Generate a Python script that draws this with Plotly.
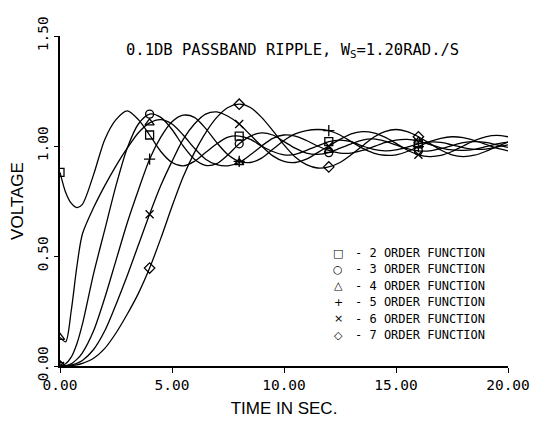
import plotly.graph_objects as go

# time grid (s)
T = [0, 0.25, 0.5, 0.75, 1.0] + [1.5 + 0.5 * i for i in range(38)]

# step responses (voltage)
order2 = [0.88,0.79,0.74,0.72,0.735, 0.87,1.03,1.12,1.16,1.12, 1.05,0.975,0.925,0.91,0.93,
          0.97,1.01,1.04,1.045,1.03, 1.0,0.975,0.96,0.962,0.98, 1.0,1.02,1.027,1.02,1.0,
          0.985,0.978,0.982,0.995,1.01, 1.018,1.016,1.005,0.993,0.985, 0.986,0.995,1.005]
order3 = [0,0.01,0.04,0.1,0.19, 0.42,0.62,0.82,0.99,1.1, 1.145,1.13,1.075,1.0,0.94,
          0.912,0.92,0.96,1.01,1.045, 1.06,1.05,1.02,0.99,0.968, 0.962,0.97,0.99,1.01,1.027,
          1.032,1.022,1.005,0.988,0.978, 0.978,0.988,1.002,1.015,1.02, 1.016,1.005,0.994]
order4 = [0.13,0.11,0.25,0.45,0.6, 0.72,0.82,0.91,0.99,1.06, 1.105,1.12,1.1,1.05,0.99,
          0.94,0.915,0.91,0.925,0.96, 1.0,1.035,1.05,1.045,1.025, 1.0,0.98,0.968,0.968,0.98,
          0.997,1.015,1.027,1.03,1.022, 1.007,0.992,0.982,0.98,0.985, 0.997,1.01,1.018]
order5 = [0,0.002,0.01,0.03,0.06, 0.16,0.31,0.48,0.65,0.8, 0.94,1.04,1.11,1.14,1.13,
          1.08,1.015,0.96,0.93,0.925, 0.945,0.985,1.025,1.055,1.07, 1.075,1.07,1.05,1.02,0.99,
          0.968,0.958,0.96,0.975,0.997, 1.02,1.035,1.042,1.038,1.025, 1.008,0.99,0.978]
order6 = [0,0.001,0.004,0.012,0.025, 0.075,0.16,0.28,0.41,0.55, 0.69,0.82,0.93,1.03,1.1,
          1.145,1.155,1.135,1.1,1.05, 1.0,0.955,0.93,0.925,0.94, 0.97,1.0,1.03,1.055,1.065,
          1.06,1.04,1.012,0.982,0.96, 0.952,0.957,0.975,1.0,1.025, 1.042,1.048,1.042]
order7 = [0,0.0,0.002,0.005,0.012, 0.035,0.08,0.15,0.235,0.33, 0.445,0.58,0.725,0.86,0.97,
          1.06,1.13,1.175,1.19,1.175, 1.13,1.07,1.005,0.95,0.915, 0.9,0.905,0.925,0.96,1.0,
          1.04,1.065,1.075,1.065,1.042, 1.012,0.982,0.96,0.952,0.958, 0.975,0.997,1.018]

orders = ["2", "3", "4", "5", "6", "7"]
series = [order2, order3, order4, order5, order6, order7]
symbols = ["square-open", "circle-open", "triangle-up-open", "cross-thin-open", "x-thin-open", "diamond-open"]
legend_glyphs = ["□", "○", "△", "+", "×", "◇"]
marker_times = [0, 4, 8, 12, 16]

x_tickvals = [0, 5, 10, 15, 20]
x_ticktext = ["0.00", "5.00", "10.00", "15.00", "20.00"]
y_tickvals = [0, 0.5, 1.0, 1.5]
y_ticktext = ["0.00", "0.50", "1.00", "1.50"]

fig = go.Figure()
for name, ys, sym in zip(orders, series, symbols):
    fig.add_trace(go.Scatter(x=T, y=ys, mode="lines",
                             line=dict(color="black", width=1.3, shape="spline", smoothing=0.8),
                             showlegend=False, hoverinfo="skip"))
    idx = [T.index(t) for t in marker_times]
    fig.add_trace(go.Scatter(x=[T[i] for i in idx], y=[ys[i] for i in idx], mode="markers",
                             marker=dict(symbol=sym, size=8, color="black", line=dict(width=1.3, color="black")),
                             showlegend=False, name=name + " ORDER FUNCTION"))

mono = "DejaVu Sans Mono"


def px2paper(px, py):
    # plot area: x 60..508, y 36..366 (pixels)
    return (px - 60) / 448.0, (366 - py) / 330.0


annotations = []
tx, ty = px2paper(292, 51)
annotations.append(dict(text="0.1DB PASSBAND RIPPLE, W<sub>S</sub>=1.20RAD./S", x=tx, y=ty,
                        xref="paper", yref="paper", showarrow=False, xanchor="center", yanchor="middle",
                        font=dict(family=mono, size=15.5, color="black")))
for i, (name, g) in enumerate(zip(orders, legend_glyphs)):
    py = 253 + 16.4 * i
    gx, gy = px2paper(338, py)
    annotations.append(dict(text=g, x=gx, y=gy, xref="paper", yref="paper", showarrow=False,
                            xanchor="center", yanchor="middle",
                            font=dict(family="DejaVu Sans", size=11, color="black")))
    lx, ly = px2paper(353, py)
    annotations.append(dict(text="- " + name + " ORDER FUNCTION", x=lx, y=ly, xref="paper", yref="paper",
                            showarrow=False, xanchor="left", yanchor="middle",
                            font=dict(family=mono, size=12, color="black")))

fig.update_layout(
    width=552, height=429,
    margin=dict(l=60, r=44, t=36, b=63),
    paper_bgcolor="white", plot_bgcolor="white",
    showlegend=False,
    annotations=annotations,
    xaxis=dict(range=[0, 20], showgrid=False, zeroline=False, showline=True, linecolor="black", linewidth=1.5,
               ticks="outside", ticklen=5, tickwidth=1.2, tickcolor="black",
               tickvals=x_tickvals, ticktext=x_ticktext,
               tickfont=dict(family=mono, size=14.5, color="black"),
               title=dict(text="TIME IN SEC.", font=dict(family="Liberation Sans", size=17, color="black"),
                          standoff=10)),
    yaxis=dict(range=[0, 1.5], showgrid=False, zeroline=False, showline=True, linecolor="black", linewidth=1.5,
               ticks="outside", ticklen=4, tickwidth=1.2, tickcolor="black",
               tickvals=y_tickvals, ticktext=y_ticktext, tickangle=-90,
               tickfont=dict(family=mono, size=14.5, color="black"),
               title=dict(text="VOLTAGE", font=dict(family="Liberation Sans", size=17, color="black"),
                          standoff=8)),
)

fig.write_html("out.html")
